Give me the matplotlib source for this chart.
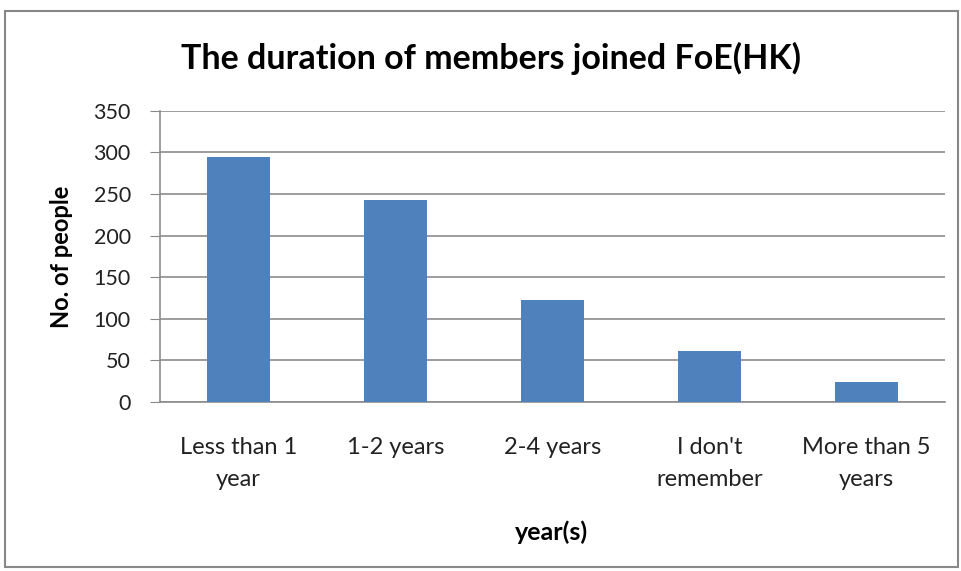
import matplotlib.pyplot as plt
from matplotlib.patches import Rectangle

plt.rcParams['font.family'] = ['Lato', 'DejaVu Sans']

categories = ['Less than 1\nyear', '1-2 years', '2-4 years', "I don't\nremember", 'More than 5\nyears']
values = [294, 243, 122, 61, 24]

fig = plt.figure(figsize=(9.62, 5.71), dpi=100)
ax = fig.add_axes([160/962, 1-402/571, 785/962, (402-110.7)/571])

x = range(len(categories))
ax.bar(x, values, width=0.4, color='#4F81BD', zorder=3)
ax.set_xlim(-0.5, len(categories) - 0.5)
ax.set_ylim(0, 350)
ax.set_yticks(range(0, 351, 50))
ax.set_xticks(list(x))
ax.set_xticklabels(categories, fontsize=17, color='#222222', linespacing=1.65)
ax.tick_params(axis='x', length=0, pad=25)
ax.tick_params(axis='y', labelsize=15.5, labelcolor='#222222', length=7, color='#888888', pad=14)
ax.grid(axis='y', color='#8c8c8c', linewidth=1.2, zorder=0)
for s in ['top', 'right']:
    ax.spines[s].set_visible(False)
for s in ['left', 'bottom']:
    ax.spines[s].set_color('#8c8c8c')
    ax.spines[s].set_linewidth(1.2)

fig.text(62/962, 1-257/571, 'No. of people', fontsize=17, fontweight='bold', rotation=90,
         ha='center', va='center')
fig.text(551/962, 1-532/571, 'year(s)', fontsize=18, fontweight='bold', ha='center', va='center')
fig.text(491/962, 1-58/571, 'The duration of members joined FoE(HK)', fontsize=24.5, fontweight='bold',
         ha='center', va='center')

fig.patches.append(Rectangle((5/962, 4/571), 953/962, 556/571, transform=fig.transFigure,
                             fill=False, edgecolor='#888888', linewidth=1.5))

fig.savefig('out.png', dpi=100)
